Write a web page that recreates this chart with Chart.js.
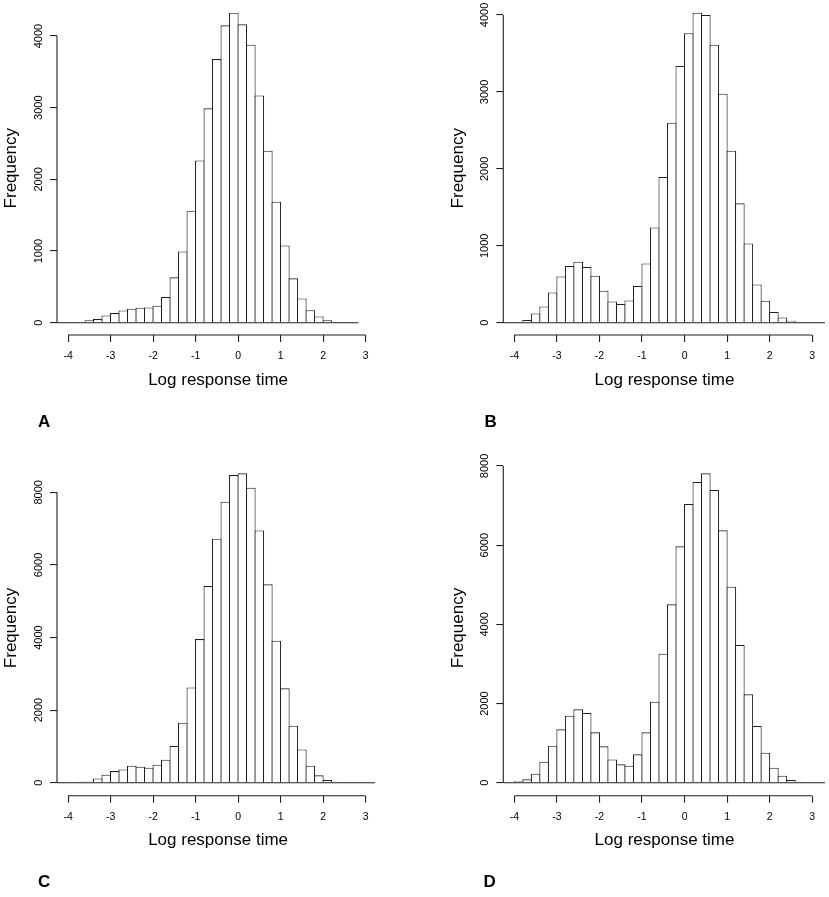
<!DOCTYPE html>
<html>
<head>
<meta charset="utf-8">
<script src="https://cdn.jsdelivr.net/npm/chart.js@4.4.1/dist/chart.umd.min.js"></script>
<style>
  html, body { margin: 0; padding: 0; background: #fff; overflow: hidden; }
  canvas { position: absolute; }
</style>
</head>
<body>
<canvas id="cA" width="415" height="448" style="left:0px;top:0px"></canvas>
<canvas id="cB" width="414" height="448" style="left:415px;top:0px"></canvas>
<canvas id="cC" width="415" height="449" style="left:0px;top:448px"></canvas>
<canvas id="cD" width="414" height="449" style="left:415px;top:448px"></canvas>
<script>
// ---- DATA ----
const binCenters = [-3.9, -3.7, -3.5, -3.3, -3.1, -2.9, -2.7, -2.5, -2.3, -2.1,
                    -1.9, -1.7, -1.5, -1.3, -1.1, -0.9, -0.7, -0.5, -0.3, -0.1,
                     0.1,  0.3,  0.5,  0.7,  0.9,  1.1,  1.3,  1.5,  1.7,  1.9,
                     2.1,  2.3,  2.5,  2.7,  2.9];
const countsA = [0, 0, 33, 51, 102, 135, 172, 195, 209, 212,
                 237, 360, 633, 995, 1563, 2265, 2991, 3679, 4149, 4325,
                 4163, 3879, 3172, 2400, 1688, 1079, 619, 338, 175, 87,
                 33, 0, 0, 0, 0];
const countsB = [0, 35, 121, 212, 394, 602, 737, 793, 724, 611,
                 416, 277, 243, 290, 477, 771, 1239, 1894, 2600, 3337,
                 3762, 4030, 4000, 3614, 2977, 2236, 1551, 1031, 498, 286,
                 139, 69, 26, 0, 0];
const countsC = [0, 28, 28, 119, 220, 321, 367, 468, 441, 413,
                 496, 634, 1015, 1653, 2626, 3958, 5418, 6722, 7741, 8476,
                 8522, 8127, 6951, 5464, 3912, 2599, 1570, 918, 468, 202,
                 73, 28, 0, 0, 0];
const countsD = [34, 84, 227, 530, 934, 1347, 1693, 1853, 1760, 1272,
                 918, 589, 463, 429, 716, 1272, 2046, 3259, 4505, 5970,
                 7040, 7596, 7815, 7394, 6375, 4952, 3478, 2232, 1432, 758,
                 379, 177, 67, 25, 0];
const xTickValues = [-4, -3, -2, -1, 0, 1, 2, 3];
const xTickLabels = ['-4', '-3', '-2', '-1', '0', '1', '2', '3'];
const yTicksAB = [0, 1000, 2000, 3000, 4000];
const yTicksCD = [0, 2000, 4000, 6000, 8000];
const panelLetters = ['A', 'B', 'C', 'D'];
const xTitle = 'Log response time';
const yTitle = 'Frequency';

// ---- LAYOUT (canvas-local pixels) ----
const FONT = "'Liberation Sans', Arial, Helvetica, sans-serif";
Chart.defaults.font.family = FONT;
const X_MIN = -4.26, X_MAX = 3.32, BIN_W = 0.2;
const Y_AXIS_W = 57;
const panels = [
  {canvas: 'cA', counts: countsA, yTicks: yTicksAB, yMin: -171.6, yMax: 4482, w: 415, h: 448,
   padL: 0, padT: 1.5, padR: 35.8, padB: 57.6, chartBottom: 335, baselineEnd: 2.83, letterX: 38, letterY: 426.5},
  {canvas: 'cB', counts: countsB, yTicks: yTicksAB, yMin: -159.9, yMax: 4175, w: 414, h: 448,
   padL: 31.3, padT: 1.5, padR: 3.2, padB: 57.6, chartBottom: 335, baselineEnd: 3.3, letterX: 69.5, letterY: 426.5},
  {canvas: 'cC', counts: countsC, yTicks: yTicksCD, yMin: -358, yMax: 8882, w: 415, h: 449,
   padL: 0, padT: 12.3, padR: 35.8, padB: 46.6, chartBottom: 347.7, baselineEnd: 3.22, letterX: 38, letterY: 438.5},
  {canvas: 'cD', counts: countsD, yTicks: yTicksCD, yMin: -328.4, yMax: 8143, w: 414, h: 449,
   padL: 31.3, padT: 12.3, padR: 3.2, padB: 46.6, chartBottom: 347.7, baselineEnd: 3.3, letterX: 68.5, letterY: 438.5}
];

const LINE = '#202020';

const rAxes = {
  id: 'rAxes',
  afterDatasetsDraw(chart, args, opts) {
    const {ctx, chartArea, scales: {x, y}} = chart;
    ctx.save();
    ctx.strokeStyle = LINE;
    ctx.lineWidth = 1.1;
    // zero baseline
    const y0 = y.getPixelForValue(0);
    ctx.beginPath();
    ctx.moveTo(chartArea.left, y0);
    ctx.lineTo(x.getPixelForValue(opts.baselineEnd), y0);
    ctx.stroke();
    // y axis line (first to last tick)
    const yt = opts.yTicks;
    ctx.beginPath();
    ctx.moveTo(chartArea.left, y.getPixelForValue(yt[0]));
    ctx.lineTo(chartArea.left, y.getPixelForValue(yt[yt.length - 1]));
    ctx.stroke();
    // x axis line (first to last tick)
    ctx.beginPath();
    ctx.moveTo(x.getPixelForValue(xTickValues[0]), chartArea.bottom);
    ctx.lineTo(x.getPixelForValue(xTickValues[xTickValues.length - 1]), chartArea.bottom);
    ctx.stroke();
    // rotated y tick labels
    ctx.fillStyle = '#000';
    ctx.font = '11px ' + FONT;
    ctx.textAlign = 'center';
    ctx.textBaseline = 'middle';
    yt.forEach(v => {
      ctx.save();
      ctx.translate(chartArea.left - 18, y.getPixelForValue(v));
      ctx.rotate(-Math.PI / 2);
      ctx.fillText(String(v), 0, 0);
      ctx.restore();
    });
    // panel letter
    ctx.font = 'bold 17px ' + FONT;
    ctx.textAlign = 'left';
    ctx.textBaseline = 'alphabetic';
    ctx.fillText(opts.letter, opts.letterX, opts.letterY);
    ctx.restore();
  }
};

panels.forEach((p, k) => {
  const chartW = p.w - p.padR - (p.padL + Y_AXIS_W);
  const ppu = chartW / (X_MAX - X_MIN);
  const binPx = BIN_W * ppu;
  const bw = 1.1;
  const xScaleH = p.h - p.padB - p.chartBottom;
  new Chart(document.getElementById(p.canvas), {
    type: 'bar',
    data: {
      datasets: [{
        data: binCenters.map((c, i) => ({x: c, y: p.counts[i]})),
        backgroundColor: '#ffffff',
        borderColor: LINE,
        borderWidth: bw,
        barPercentage: (binPx + bw) / binPx,
        categoryPercentage: 1,
        grouped: false
      }]
    },
    options: {
      responsive: false,
      animation: false,
      events: [],
      layout: {padding: {left: p.padL, top: p.padT, right: p.padR, bottom: p.padB}},
      plugins: {
        legend: {display: false},
        tooltip: {enabled: false},
        rAxes: {baselineEnd: p.baselineEnd, yTicks: p.yTicks, letter: panelLetters[k], letterX: p.letterX, letterY: p.letterY}
      },
      scales: {
        x: {
          type: 'linear',
          min: X_MIN,
          max: X_MAX,
          offset: false,
          afterBuildTicks: s => { s.ticks = xTickValues.map(v => ({value: v})); },
          ticks: {
            callback: (v, i) => xTickLabels[i],
            font: {size: 10.5},
            color: '#000',
            padding: 8,
            maxRotation: 0,
            minRotation: 0,
            autoSkip: false
          },
          grid: {offset: false, drawOnChartArea: false, drawTicks: true, tickLength: 7, color: LINE, tickColor: LINE, lineWidth: 1.1},
          border: {display: false},
          title: {display: true, text: xTitle, font: {size: 17}, color: '#000', padding: {top: 0, bottom: 0}},
          afterFit: s => { s.height = xScaleH; s.paddingLeft = 0; s.paddingRight = 0; }
        },
        y: {
          type: 'linear',
          min: p.yMin,
          max: p.yMax,
          afterBuildTicks: s => { s.ticks = p.yTicks.map(v => ({value: v})); },
          ticks: {display: false},
          grid: {drawOnChartArea: false, drawTicks: true, tickLength: 7, color: LINE, tickColor: LINE, lineWidth: 1.1},
          border: {display: false},
          title: {display: true, text: yTitle, font: {size: 17}, color: '#000', padding: {top: 1.5, bottom: 0}},
          afterFit: s => { s.width = Y_AXIS_W; s.paddingTop = 0; s.paddingBottom = 0; }
        }
      }
    },
    plugins: [rAxes]
  });
});
</script>
</body>
</html>
